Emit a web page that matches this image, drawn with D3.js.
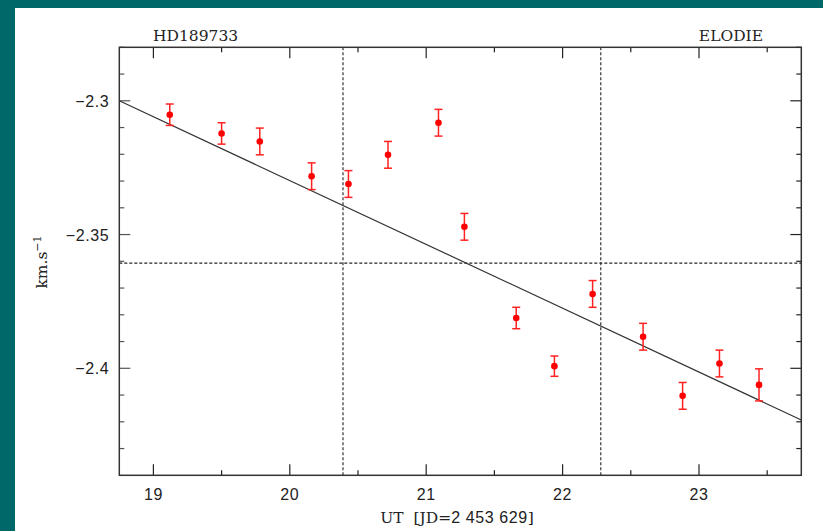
<!DOCTYPE html>
<html>
<head>
<meta charset="utf-8">
<script src="https://cdn.jsdelivr.net/npm/d3@7"></script>
<style>
  html, body { margin: 0; padding: 0; background: #006868; }
  svg { display: block; }
  .tick-label { font-family: "Liberation Sans", Arial, sans-serif; font-size: 16px; letter-spacing: 0.6px; fill: #222; }
  .serif { font-family: "DejaVu Serif", "Liberation Serif", serif; fill: #222; }
</style>
</head>
<body>
<svg width="823" height="531"></svg>
<script>
// UT hours (JD = 2 453 629)
var ut = [19.12, 19.50, 19.78, 20.16, 20.43, 20.72, 21.09, 21.28,
          21.66, 21.94, 22.22, 22.59, 22.88, 23.15, 23.44];
// radial velocity, km/s
var rv = [-2.3052, -2.3122, -2.3152, -2.3282, -2.3311, -2.3202, -2.3082, -2.3471,
          -2.3812, -2.3992, -2.3722, -2.3882, -2.4103, -2.3982, -2.4062];
var rvErr = [0.004, 0.004, 0.005, 0.005, 0.005, 0.005, 0.005, 0.005,
             0.004, 0.0038, 0.005, 0.005, 0.005, 0.005, 0.006];

// linear fit, ends at the frame edges
var fitX = [18.75, 23.75];
var fitY = [-2.300, -2.4193];

// dotted markers
var vMarks = [20.39, 22.28];
var hMarks = [-2.3607];

var xMajor = [19, 20, 21, 22, 23];
var yMajor = [-2.3, -2.35, -2.4];

var svg = d3.select("svg"),
    width = +svg.attr("width"),
    height = +svg.attr("height");

// white panel
svg.append("rect")
    .attr("x", 15).attr("y", 8)
    .attr("width", width - 15).attr("height", height - 8)
    .attr("fill", "#fff");

var pLeft = 119.3, pRight = 801.3, pTop = 47.3, pBottom = 475.3;

var x = d3.scaleLinear().domain([18.75, 23.75]).range([pLeft, pRight]);
var y = d3.scaleLinear().domain([-2.44, -2.28]).range([pBottom, pTop]);

var g = svg.append("g");

// ticks on all four sides
var xMinor = d3.range(19, 23.76, 0.5).filter(function(d) { return Math.abs(d - Math.round(d)) > 0.01; });
var yMinor = d3.range(-2.43, -2.279, 0.01).filter(function(d) {
    return yMajor.every(function(m) { return Math.abs(m - d) > 0.001; });
});

function xTicks(vals, len) {
    vals.forEach(function(v) {
        g.append("line").attr("x1", x(v)).attr("x2", x(v))
            .attr("y1", pBottom).attr("y2", pBottom - len)
            .attr("stroke", "#222").attr("stroke-width", 1.2);
        g.append("line").attr("x1", x(v)).attr("x2", x(v))
            .attr("y1", pTop).attr("y2", pTop + len)
            .attr("stroke", "#222").attr("stroke-width", 1.2);
    });
}
function yTicks(vals, len) {
    vals.forEach(function(v) {
        g.append("line").attr("x1", pLeft).attr("x2", pLeft + len)
            .attr("y1", y(v)).attr("y2", y(v))
            .attr("stroke", "#555").attr("stroke-width", 1.2);
        g.append("line").attr("x1", pRight).attr("x2", pRight - len)
            .attr("y1", y(v)).attr("y2", y(v))
            .attr("stroke", "#222").attr("stroke-width", 1.2);
    });
}
xTicks(xMajor, 11);
xTicks(xMinor, 5);
yTicks(yMajor, 11);
yTicks(yMinor, 5);

// tick labels
g.selectAll(".xl").data(xMajor).enter().append("text")
    .attr("class", "tick-label")
    .attr("x", function(d) { return x(d); })
    .attr("y", pBottom + 25)
    .attr("text-anchor", "middle")
    .text(function(d) { return d; });

g.selectAll(".yl").data(yMajor).enter().append("text")
    .attr("class", "tick-label")
    .attr("x", pLeft - 10)
    .attr("y", function(d) { return y(d) + 6; })
    .attr("text-anchor", "end")
    .text(function(d) { return "\u2212" + String(-d); });

// dotted reference lines
vMarks.forEach(function(v) {
    g.append("line").attr("x1", x(v)).attr("x2", x(v))
        .attr("y1", pTop).attr("y2", pBottom)
        .attr("stroke", "#222").attr("stroke-width", 1.1)
        .attr("stroke-dasharray", "3,2");
});
hMarks.forEach(function(v) {
    g.append("line").attr("x1", pLeft).attr("x2", pRight)
        .attr("y1", y(v)).attr("y2", y(v))
        .attr("stroke", "#222").attr("stroke-width", 1.1)
        .attr("stroke-dasharray", "3,2");
});

// fit line
g.append("line")
    .attr("x1", x(fitX[0])).attr("y1", y(fitY[0]))
    .attr("x2", x(fitX[1])).attr("y2", y(fitY[1]))
    .attr("stroke", "#333").attr("stroke-width", 1.2);

// data with error bars
var pts = ut.map(function(d, i) { return { t: d, v: rv[i], e: rvErr[i] }; });
var pg = g.selectAll(".pt").data(pts).enter().append("g");
pg.append("line")
    .attr("x1", function(d) { return x(d.t); }).attr("x2", function(d) { return x(d.t); })
    .attr("y1", function(d) { return y(d.v + d.e); }).attr("y2", function(d) { return y(d.v - d.e); })
    .attr("stroke", "#f22").attr("stroke-width", 1.5);
[1, -1].forEach(function(s) {
    pg.append("line")
        .attr("x1", function(d) { return x(d.t) - 4; }).attr("x2", function(d) { return x(d.t) + 4; })
        .attr("y1", function(d) { return y(d.v + s * d.e); }).attr("y2", function(d) { return y(d.v + s * d.e); })
        .attr("stroke", "#f22").attr("stroke-width", 1.5);
});
pg.append("circle")
    .attr("cx", function(d) { return x(d.t); })
    .attr("cy", function(d) { return y(d.v); })
    .attr("r", 3.3)
    .attr("fill", "#f00");

// frame
g.append("rect")
    .attr("x", pLeft).attr("y", pTop)
    .attr("width", pRight - pLeft).attr("height", pBottom - pTop)
    .attr("fill", "none").attr("stroke", "#333").attr("stroke-width", 1.5);

// titles
g.append("text").attr("class", "serif")
    .attr("x", 153).attr("y", 40.5)
    .attr("font-size", 15.5)
    .text("HD189733");
g.append("text").attr("class", "serif")
    .attr("x", 763).attr("y", 40.5)
    .attr("text-anchor", "end")
    .attr("font-size", 15.5)
    .text("ELODIE");

// x label
var xl = g.append("text").attr("class", "serif")
    .attr("x", 457).attr("y", 523)
    .attr("text-anchor", "middle")
    .attr("font-size", 15.5);
xl.append("tspan").text("UT\u00a0\u00a0[JD=");
xl.append("tspan").attr("font-family", "Liberation Sans, Arial, sans-serif")
    .attr("font-size", 16).attr("letter-spacing", 0.6).text("2\u00a0453\u00a0629");
xl.append("tspan").text("]");

// y label
var yl = g.append("text").attr("class", "serif")
    .attr("transform", "translate(47,262) rotate(-90)")
    .attr("text-anchor", "middle")
    .attr("font-size", 15.5);
yl.append("tspan").text("km.s");
yl.append("tspan").attr("dy", -6).attr("font-size", 11).text("\u22121");
</script>
</body>
</html>
